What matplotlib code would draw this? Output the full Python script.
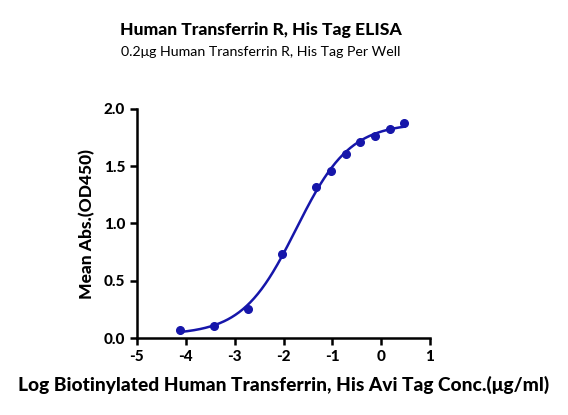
import numpy as np
import matplotlib.pyplot as plt

# log10 concentration (ug/ml) and mean OD450
log_conc = [-4.125, -3.426, -2.727, -2.028, -1.329, -1.028, -0.727, -0.426, -0.125, 0.176, 0.477]
od450 = [0.073, 0.108, 0.256, 0.731, 1.316, 1.461, 1.607, 1.715, 1.764, 1.825, 1.878]

x_ticks = [-5, -4, -3, -2, -1, 0, 1]
y_ticks = [0.0, 0.5, 1.0, 1.5, 2.0]


def fit_4pl(x, y):
    # grid over logEC50 / hill, bottom & top solved by least squares
    best = None
    for c in np.linspace(-3, -0.5, 251):
        for h in np.linspace(0.4, 2.0, 161):
            s = 1.0 / (1.0 + 10 ** ((c - x) * h))
            A = np.column_stack([1 - s, s])
            coef, res, _, _ = np.linalg.lstsq(A, y, rcond=None)
            err = np.sum((A @ coef - y) ** 2)
            if best is None or err < best[0]:
                best = (err, coef[0], coef[1], c, h)
    return best[1:]


x = np.array(log_conc)
y = np.array(od450)
bottom, top, ec50, hill = fit_4pl(x, y)
xf = np.linspace(x.min(), x.max(), 300)
yf = bottom + (top - bottom) / (1 + 10 ** ((ec50 - xf) * hill))

plt.rcParams['font.family'] = ['Lato', 'DejaVu Sans']
fig = plt.figure(figsize=(5.68, 4.15), dpi=100)
ax = fig.add_axes([137 / 568, 1 - 338 / 415, 293 / 568, 229 / 415])

col = '#1616aa'
ax.plot(xf, yf, color=col, lw=1.8)
ax.plot(x, y, 'o', color=col, ms=5.5)

ax.set_xlim(-5, 1)
ax.set_ylim(0, 2.0)
ax.set_xticks(x_ticks)
ax.set_yticks(y_ticks)
ax.set_xticklabels([str(t) for t in x_ticks], fontweight='black', fontsize=11)
ax.set_yticklabels([f'{t:.1f}' for t in y_ticks], fontweight='black', fontsize=11)
ax.tick_params(width=1.8, length=5)
for s in ['top', 'right']:
    ax.spines[s].set_visible(False)
for s in ['left', 'bottom']:
    ax.spines[s].set_linewidth(1.8)

ax.set_ylabel('Mean Abs.(OD450)', fontweight='black', fontsize=12.5, labelpad=6)
ax.set_xlabel('Log Biotinylated Human Transferrin, His Avi Tag Conc.(\u03bcg/ml)',
              fontweight='black', fontsize=13.8, labelpad=9)

fig.text(261 / 568, 1 - 30 / 415, 'Human Transferrin R, His Tag ELISA', ha='center', va='center',
         fontweight='black', fontsize=12.6)
fig.text(261 / 568, 1 - 52 / 415, '0.2\u03bcg Human Transferrin R, His Tag Per Well', ha='center', va='center',
         fontsize=10.2)

fig.savefig('out.png', dpi=100)
